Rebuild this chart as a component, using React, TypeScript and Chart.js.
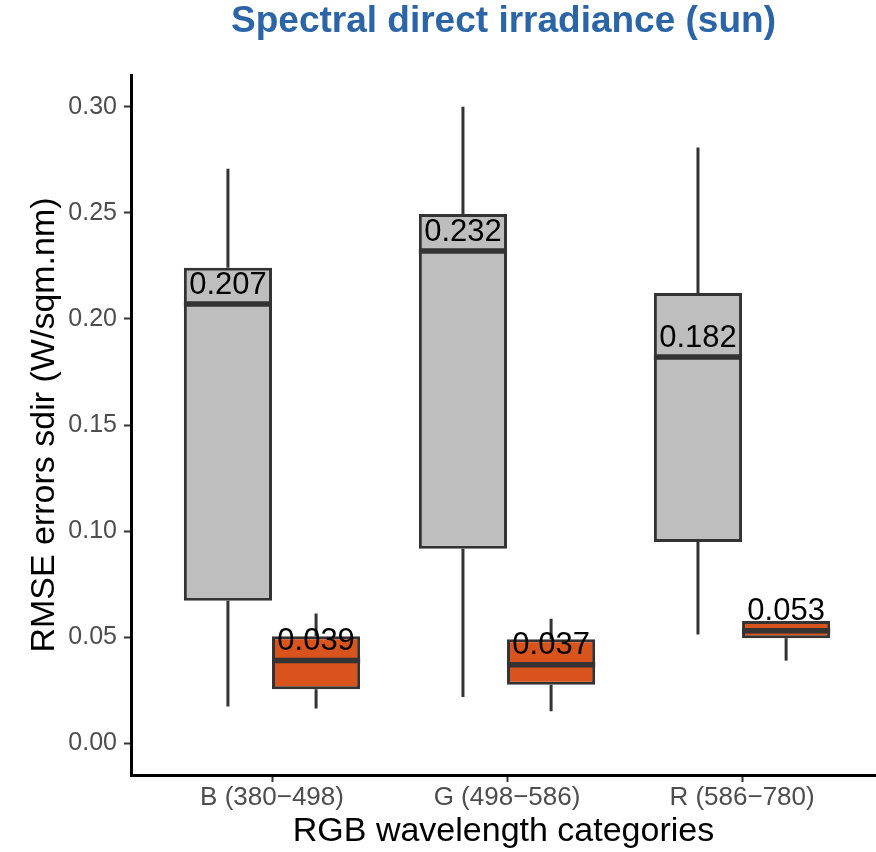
import React, { useEffect, useRef } from "react";
import { Chart, registerables } from "chart.js";

Chart.register(...registerables);

const categories = ["B (380\u2212498)", "G (498\u2212586)", "R (586\u2212780)"];
const categoryPositions = [1, 2, 3];
const yTickValues = [0, 0.05, 0.1, 0.15, 0.2, 0.25, 0.3];

const grayMin = [0.0173, 0.0218, 0.0512];
const grayQ1 = [0.0672, 0.0917, 0.0948];
const grayMedian = [0.207, 0.232, 0.182];
const grayQ3 = [0.2241, 0.2495, 0.2122];
const grayMax = [0.2708, 0.3, 0.2808];

const orangeMin = [0.0163, 0.0151, 0.0389];
const orangeQ1 = [0.0254, 0.0275, 0.0495];
const orangeMedian = [0.039, 0.037, 0.053];
const orangeQ3 = [0.0504, 0.049, 0.0576];
const orangeMax = [0.0611, 0.0587, 0.0576];

const FONT = "'Liberation Sans', Arial, Helvetica, sans-serif";
const INK = "#333333";

const boxExtras = {
  id: "boxExtras",
  beforeDatasetsDraw(chart: any) {
    const ctx = chart.ctx;
    const y = chart.scales.y;
    chart.data.datasets.forEach((ds: any, di: number) => {
      const meta = chart.getDatasetMeta(di);
      meta.data.forEach((bar: any, i: number) => {
        ctx.save();
        ctx.strokeStyle = INK;
        ctx.lineWidth = 3;
        ctx.lineCap = "butt";
        ctx.beginPath();
        ctx.moveTo(bar.x, y.getPixelForValue(ds.q3[i]));
        ctx.lineTo(bar.x, y.getPixelForValue(ds.whiskerHigh[i]));
        ctx.moveTo(bar.x, y.getPixelForValue(ds.q1[i]));
        ctx.lineTo(bar.x, y.getPixelForValue(ds.whiskerLow[i]));
        ctx.stroke();
        ctx.restore();
      });
    });
  },
  afterDatasetsDraw(chart: any) {
    const ctx = chart.ctx;
    const y = chart.scales.y;
    chart.data.datasets.forEach((ds: any, di: number) => {
      const meta = chart.getDatasetMeta(di);
      meta.data.forEach((bar: any, i: number) => {
        const my = y.getPixelForValue(ds.medians[i]);
        const half = bar.width / 2;
        ctx.save();
        ctx.strokeStyle = INK;
        ctx.lineWidth = 5.5;
        ctx.beginPath();
        ctx.moveTo(bar.x - half, my);
        ctx.lineTo(bar.x + half, my);
        ctx.stroke();
        ctx.fillStyle = "#000000";
        ctx.font = `31px ${FONT}`;
        ctx.textAlign = "center";
        ctx.textBaseline = "alphabetic";
        ctx.fillText(ds.medians[i].toFixed(3), bar.x, my - 10.5);
        ctx.restore();
      });
    });
  },
};

export default function App() {
  const ref = useRef<HTMLCanvasElement | null>(null);

  useEffect(() => {
    document.body.style.margin = "0";
    const canvas = ref.current;
    if (!canvas) return;
    const chart = new Chart(canvas, {
      type: "bar",
      data: {
        datasets: [
          {
            label: "Gray",
            data: categoryPositions.map((x, i) => ({ x, y: [grayQ1[i], grayQ3[i]] })) as any,
            backgroundColor: "#BEBEBE",
            borderColor: INK,
            borderWidth: 3,
            borderSkipped: false,
            medians: grayMedian,
            q1: grayQ1,
            q3: grayQ3,
            whiskerLow: grayMin,
            whiskerHigh: grayMax,
          } as any,
          {
            label: "Orange",
            data: categoryPositions.map((x, i) => ({ x, y: [orangeQ1[i], orangeQ3[i]] })) as any,
            backgroundColor: "#D9531C",
            borderColor: INK,
            borderWidth: 3,
            borderSkipped: false,
            medians: orangeMedian,
            q1: orangeQ1,
            q3: orangeQ3,
            whiskerLow: orangeMin,
            whiskerHigh: orangeMax,
          } as any,
        ],
      },
      options: {
        responsive: false,
        animation: false,
        devicePixelRatio: 1,
        categoryPercentage: 0.75,
        barPercentage: 1,
        layout: { padding: 0 },
        plugins: {
          legend: { display: false },
          tooltip: { enabled: false },
          title: {
            display: true,
            text: "Spectral direct irradiance (sun)",
            color: "#2B65A8",
            fullSize: false,
            font: { family: FONT, size: 37, weight: "bold", lineHeight: 1.1 },
            padding: { top: 1, bottom: 33.3 },
          },
        },
        scales: {
          x: {
            type: "linear",
            min: 0.4,
            max: 3.57,
            offset: false,
            afterBuildTicks: (scale: any) => {
              scale.ticks = categoryPositions.map((v) => ({ value: v }));
            },
            afterFit: (scale: any) => {
              scale.height = 77;
            },
            ticks: {
              color: "#4D4D4D",
              font: { family: FONT, size: 26 },
              padding: 0,
              maxRotation: 0,
              autoSkip: false,
              callback: (v: any) => {
                const idx = categoryPositions.indexOf(Number(v));
                return idx >= 0 ? categories[idx] : "";
              },
            },
            grid: {
              display: true,
              offset: false,
              drawOnChartArea: false,
              drawTicks: true,
              tickLength: 7,
              tickColor: INK,
              tickWidth: 2,
            },
            border: { display: true, color: "#000000", width: 3 },
            title: {
              display: true,
              text: "RGB wavelength categories",
              color: "#000000",
              font: { family: FONT, size: 34 },
              padding: { top: 0, bottom: 0 },
            },
          },
          y: {
            type: "linear",
            min: -0.015,
            max: 0.315,
            afterBuildTicks: (scale: any) => {
              scale.ticks = yTickValues.map((v) => ({ value: v }));
            },
            afterFit: (scale: any) => {
              scale.width = 131;
            },
            ticks: {
              color: "#4D4D4D",
              font: { family: FONT, size: 25 },
              padding: 7,
              callback: (v: any) => Number(v).toFixed(2),
            },
            grid: {
              display: true,
              drawOnChartArea: false,
              drawTicks: true,
              tickLength: 7,
              tickColor: INK,
              tickWidth: 2,
            },
            border: { display: true, color: "#000000", width: 3 },
            title: {
              display: true,
              text: "RMSE errors sdir (W/sqm.nm)",
              color: "#000000",
              font: { family: FONT, size: 34 },
              padding: { top: 24.6, bottom: 0 },
            },
          },
        },
      } as any,
      plugins: [boxExtras],
    });
    return () => chart.destroy();
  }, []);

  return (
    <div style={{ width: 876, height: 852, background: "#ffffff" }}>
      <canvas ref={ref} width={876} height={852} style={{ display: "block" }} />
    </div>
  );
}
